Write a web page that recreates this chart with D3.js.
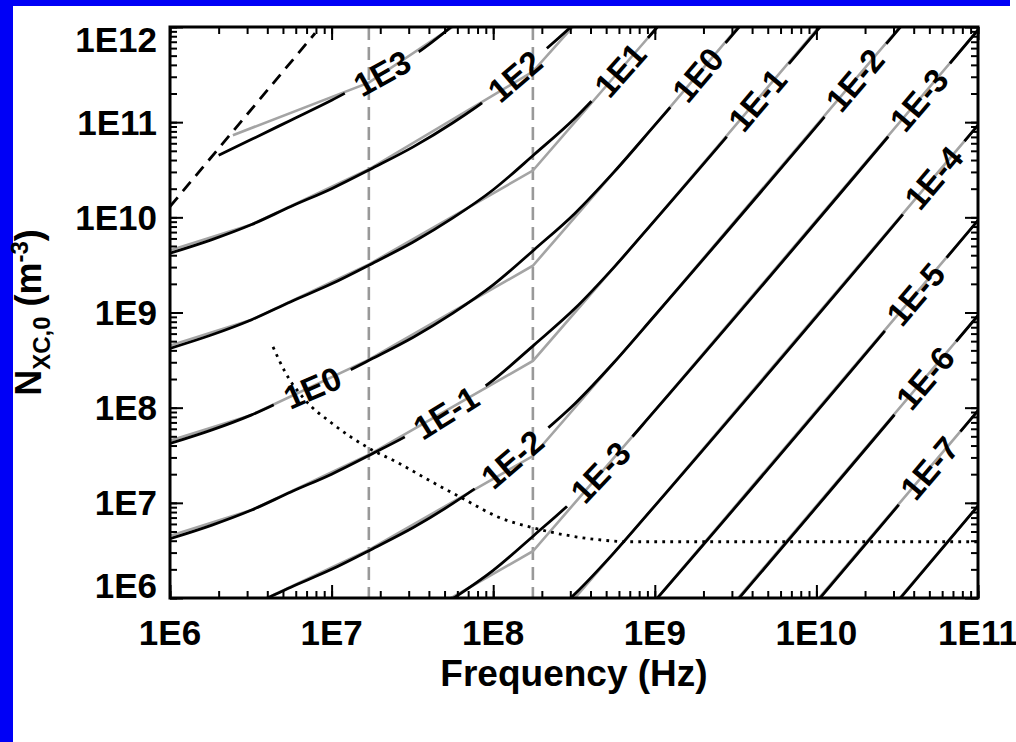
<!DOCTYPE html>
<html>
<head>
<meta charset="utf-8">
<title>N_XC,0 contours vs frequency</title>
<script src="https://cdn.jsdelivr.net/npm/d3@7/dist/d3.min.js"></script>
<style>
  html, body { margin: 0; padding: 0; background: #fff; }
  svg { display: block; }
  text { font-family: "Liberation Sans", Arial, Helvetica, sans-serif; font-weight: bold; fill: #000; }
</style>
</head>
<body>
<script>
// ---------- values ----------

// common frequency grid (Hz) for the black contours
const freqGrid = [1e6, 1.8e6, 3.2e6, 5.6e6, 1e7, 1.8e7, 3.2e7, 5.6e7, 1e8, 1.8e8, 3.2e8, 5.6e8, 1e9, 1e11];

// black contours, density N_XC,0 (m^-3) on freqGrid
const densE2  = [4.2e9, 5.8e9, 8.4e9, 1.3e10, 2.0e10, 3.3e10, 5.5e10, 9.8e10, 1.95e11, 4.6e11, 1.1e12, 3.0e12, 9.3e12, 9.3e16];
const densE1  = [4.2e8, 5.8e8, 8.4e8, 1.3e9, 2.0e9, 3.3e9, 5.5e9, 9.8e9, 1.95e10, 4.6e10, 1.1e11, 3.0e11, 9.3e11, 9.3e15];
const densE0  = [4.2e7, 5.8e7, 8.4e7, 1.3e8, 2.0e8, 3.3e8, 5.5e8, 9.8e8, 1.95e9, 4.6e9, 1.1e10, 3.0e10, 9.3e10, 9.3e14];
const densEm1 = [4.2e6, 5.8e6, 8.4e6, 1.3e7, 2.0e7, 3.3e7, 5.5e7, 9.8e7, 1.95e8, 4.6e8, 1.1e9, 3.0e9, 9.3e9, 9.3e13];
const densEm2 = [4.2e5, 5.8e5, 8.4e5, 1.3e6, 2.0e6, 3.3e6, 5.5e6, 9.8e6, 1.95e7, 4.6e7, 1.1e8, 3.0e8, 9.3e8, 9.3e12];
const densEm3 = [4.2e4, 5.8e4, 8.4e4, 1.3e5, 2.0e5, 3.3e5, 5.5e5, 9.8e5, 1.95e6, 4.6e6, 1.1e7, 3.0e7, 9.3e7, 9.3e11];
const densEm4 = [4.2e3, 5.8e3, 8.4e3, 1.3e4, 2.0e4, 3.3e4, 5.5e4, 9.8e4, 1.95e5, 4.6e5, 1.1e6, 3.0e6, 9.3e6, 9.3e10];
const densEm5 = [420, 580, 840, 1.3e3, 2.0e3, 3.3e3, 5.5e3, 9.8e3, 1.95e4, 4.6e4, 1.1e5, 3.0e5, 9.3e5, 9.3e9];
const densEm6 = [42, 58, 84, 130, 200, 330, 550, 980, 1.95e3, 4.6e3, 1.1e4, 3.0e4, 9.3e4, 9.3e8];
const densEm7 = [4.2, 5.8, 8.4, 13, 20, 33, 55, 98, 195, 460, 1.1e3, 3.0e3, 9.3e3, 9.3e7];
const densEm8 = [0.42, 0.58, 0.84, 1.3, 2.0, 3.3, 5.5, 9.8, 19.5, 46, 110, 300, 930, 9.3e6];

// the 1E3 contour starts on the plasma line
const freqE3 = [2.0e6, 3.2e6, 5.6e6, 1e7, 1.8e7, 3.2e7, 5.6e7, 1e8];
const densE3 = [4.5e10, 6.6e10, 1.05e11, 1.7e11, 2.9e11, 5.0e11, 1.03e12, 2.5e12];

// gray (approximate) contours
const grayFreq   = [1e6, 3.2e6, 1.7e7, 1.76e8, 1e9, 1e11];
const grayE2  = [4.5e9, 8.4e9, 3.2e10, 3.4e11, 9.3e12, 9.3e16];
const grayE1  = [4.5e8, 8.4e8, 3.2e9, 3.1e10, 9.3e11, 9.3e15];
const grayE0  = [4.5e7, 8.4e7, 3.2e8, 3.1e9, 9.3e10, 9.3e14];
const grayEm1 = [4.5e6, 8.4e6, 3.2e7, 3.1e8, 9.3e9, 9.3e13];
const grayEm2 = [4.5e5, 8.4e5, 3.2e6, 3.1e7, 9.3e8, 9.3e12];
const grayEm3 = [4.5e4, 8.4e4, 3.2e5, 3.1e6, 9.3e7, 9.3e11];
const grayEm4 = [4.5e3, 8.4e3, 3.2e4, 3.1e5, 9.3e6, 9.3e10];
const grayEm5 = [450, 840, 3.2e3, 3.1e4, 9.3e5, 9.3e9];
const grayEm6 = [45, 84, 320, 3.1e3, 9.3e4, 9.3e8];
const grayEm7 = [4.5, 8.4, 32, 310, 9.3e3, 9.3e7];
const grayEm8 = [0.45, 0.84, 3.2, 31, 930, 9.3e6];
const grayFreqE3 = [2.45e6, 1.7e7, 5.6e7, 1e8];
const grayE3     = [7.3e10, 2.6e11, 1.0e12, 1.9e12];

// dashed black line (plasma frequency)
const plasmaFreq = [1e6, 7.9e6];
const plasmaDens = [1.3e10, 8.6e11];

// dotted black line
const dotFreq = [4.34e6, 5.15e6, 6.84e6, 1.0e7, 1.68e7, 2.58e7, 4.18e7, 6.68e7, 1.07e8, 1.74e8, 2.78e8, 4.46e8, 7.0e8, 1e11];
const dotDens = [4.35e8, 2.38e8, 1.21e8, 6.9e7, 3.8e7, 2.63e7, 1.66e7, 1.08e7, 7.1e6, 5.5e6, 4.6e6, 4.1e6, 3.9e6, 3.9e6];

// vertical gray dashed markers
const vlineFreq = [1.7e7, 1.76e8];

// contour labels: text (also the contour key) and frequency where it sits
const labelText = ["1E3", "1E2", "1E1", "1E0", "1E-1", "1E-2", "1E-3", "1E-4", "1E-5", "1E-6", "1E-7", "1E0", "1E-1", "1E-2", "1E-3"];
const labelFreq = [2.05e7, 1.36e8, 6.1e8, 1.84e9, 4.3e9, 1.73e10, 4.3e10, 5.3e10, 4.1e10, 4.7e10, 5.0e10, 7.6e6, 5.1e7, 1.31e8, 4.6e8];

// axis ticks
const xTickVals   = [1e6, 1e7, 1e8, 1e9, 1e10, 1e11];
const xTickLabels = ["1E6", "1E7", "1E8", "1E9", "1E10", "1E11"];
const yTickVals   = [1e6, 1e7, 1e8, 1e9, 1e10, 1e11, 1e12];
const yTickLabels = ["1E6", "1E7", "1E8", "1E9", "1E10", "1E11", "1E12"];

// ---------- chart ----------
const ch = {};
ch.width = 1016;
ch.height = 742;
ch.margin = { top: 27, right: 38, bottom: 144, left: 170 };
ch.w = ch.width - ch.margin.left - ch.margin.right;
ch.h = ch.height - ch.margin.top - ch.margin.bottom;

const contours = [
    { key: "1E3",  freq: freqE3,   black: densE3,  grayFreq: grayFreqE3, gray: grayE3 },
    { key: "1E2",  freq: freqGrid, black: densE2,  grayFreq: grayFreq, gray: grayE2 },
    { key: "1E1",  freq: freqGrid, black: densE1,  grayFreq: grayFreq, gray: grayE1 },
    { key: "1E0",  freq: freqGrid, black: densE0,  grayFreq: grayFreq, gray: grayE0 },
    { key: "1E-1", freq: freqGrid, black: densEm1, grayFreq: grayFreq, gray: grayEm1 },
    { key: "1E-2", freq: freqGrid, black: densEm2, grayFreq: grayFreq, gray: grayEm2 },
    { key: "1E-3", freq: freqGrid, black: densEm3, grayFreq: grayFreq, gray: grayEm3 },
    { key: "1E-4", freq: freqGrid, black: densEm4, grayFreq: grayFreq, gray: grayEm4 },
    { key: "1E-5", freq: freqGrid, black: densEm5, grayFreq: grayFreq, gray: grayEm5 },
    { key: "1E-6", freq: freqGrid, black: densEm6, grayFreq: grayFreq, gray: grayEm6 },
    { key: "1E-7", freq: freqGrid, black: densEm7, grayFreq: grayFreq, gray: grayEm7 },
    { key: "1E-8", freq: freqGrid, black: densEm8, grayFreq: grayFreq, gray: grayEm8 }
];

document.addEventListener("DOMContentLoaded", () => {
    const m = ch.margin;

    ch.x = d3.scaleLog().domain([1e6, 1e11]).range([m.left, m.left + ch.w]);
    ch.y = d3.scaleLog().domain([1e6, 1e12]).range([m.top + ch.h, m.top]);

    ch.svg = d3.select("body").append("svg")
        .attr("width", ch.width)
        .attr("height", ch.height);

    // blue slide background showing at the edges
    ch.svg.append("rect").attr("x", 0).attr("y", 0).attr("width", 1010).attr("height", 6).attr("fill", "#0000f6");
    ch.svg.append("rect").attr("x", 0).attr("y", 0).attr("width", 13).attr("height", ch.height).attr("fill", "#0000f6");

    const defs = ch.svg.append("defs");
    defs.append("clipPath").attr("id", "plotClip")
        .append("rect")
        .attr("x", m.left).attr("y", m.top)
        .attr("width", ch.w).attr("height", ch.h);

    ch.mask = defs.append("mask").attr("id", "labelMask")
        .attr("maskUnits", "userSpaceOnUse")
        .attr("x", 0).attr("y", 0).attr("width", ch.width).attr("height", ch.height);
    ch.mask.append("rect").attr("width", ch.width).attr("height", ch.height).attr("fill", "white");

    ch.plot = ch.svg.append("g").attr("clip-path", "url(#plotClip)");

    drawMarkers();
    drawContours();
    drawExtraLines();
    drawAxes();
    drawContourLabels();
    drawTitles();
});

/**
 * log-log polylines through paired arrays (smooth one for the black contours)
 */
const logLine = d3.line()
    .x(d => ch.x(d[0]))
    .y(d => ch.y(d[1]));

const smoothLine = d3.line()
    .x(d => ch.x(d[0]))
    .y(d => ch.y(d[1]))
    .curve(d3.curveMonotoneX);

/**
 * Vertical gray dashed lines
 */
function drawMarkers() {
    ch.plot.selectAll(".vline")
        .data(vlineFreq)
        .join("line")
        .attr("class", "vline")
        .attr("x1", d => ch.x(d)).attr("x2", d => ch.x(d))
        .attr("y1", ch.margin.top).attr("y2", ch.margin.top + ch.h)
        .attr("stroke", "#999")
        .attr("stroke-width", 2.6)
        .attr("stroke-dasharray", "13,7");
}

/**
 * Gray approximations underneath, black contours on top (cut at labels)
 */
function drawContours() {
    ch.plot.append("g").attr("class", "gray")
        .selectAll("path")
        .data(contours)
        .join("path")
        .attr("d", d => logLine(d3.zip(d.grayFreq, d.gray)))
        .attr("fill", "none")
        .attr("stroke", "#a4a4a4")
        .attr("stroke-width", 2.6);

    ch.plot.append("g").attr("class", "black")
        .attr("mask", "url(#labelMask)")
        .selectAll("path")
        .data(contours)
        .join("path")
        .attr("d", d => smoothLine(d3.zip(d.freq, d.black)))
        .attr("fill", "none")
        .attr("stroke", "#000")
        .attr("stroke-width", 2.8);
}

/**
 * Plasma (dashed) and dotted lines
 */
function drawExtraLines() {
    ch.plot.append("path")
        .attr("d", logLine(d3.zip(plasmaFreq, plasmaDens)))
        .attr("fill", "none")
        .attr("stroke", "#000")
        .attr("stroke-width", 2.8)
        .attr("stroke-dasharray", "12,8");

    ch.plot.append("path")
        .attr("d", smoothLine(d3.zip(dotFreq, dotDens)))
        .attr("fill", "none")
        .attr("stroke", "#000")
        .attr("stroke-width", 2.8)
        .attr("stroke-dasharray", "2.8,5.2");
}

/**
 * Frame, inward ticks on all four sides, tick labels
 */
function drawAxes() {
    const m = ch.margin;
    const sides = [
        { axis: d3.axisBottom, scale: ch.x, tf: `translate(0,${m.top + ch.h})` },
        { axis: d3.axisTop,    scale: ch.x, tf: `translate(0,${m.top})` },
        { axis: d3.axisLeft,   scale: ch.y, tf: `translate(${m.left},0)` },
        { axis: d3.axisRight,  scale: ch.y, tf: `translate(${m.left + ch.w},0)` }
    ];

    sides.forEach(s => {
        const major = s.scale === ch.x ? xTickVals : yTickVals;
        [[s.scale.ticks(), 7], [major, 13]].forEach(([vals, len]) => {
            ch.svg.append("g")
                .attr("transform", s.tf)
                .call(s.axis(s.scale).tickValues(vals).tickSize(-len).tickFormat(""))
                .call(g => g.select(".domain").remove())
                .call(g => g.selectAll("line").attr("stroke", "#000").attr("stroke-width", 2));
        });
    });

    ch.svg.append("rect")
        .attr("x", m.left).attr("y", m.top)
        .attr("width", ch.w).attr("height", ch.h)
        .attr("fill", "none")
        .attr("stroke", "#000")
        .attr("stroke-width", 3);

    const fs = 35;
    const cap = fs * 0.72;

    // the last x label runs off the right edge, as in the original slide
    ch.svg.selectAll(".xlab")
        .data(xTickVals)
        .join("text")
        .attr("class", "xlab")
        .attr("x", d => ch.x(d))
        .attr("y", m.top + ch.h + 47)
        .attr("text-anchor", "middle")
        .style("font-size", fs + "px")
        .text((d, i) => xTickLabels[i]);

    ch.svg.selectAll(".ylab")
        .data(yTickVals)
        .join("text")
        .attr("class", "ylab")
        .attr("x", m.left - 13)
        .attr("y", d => Math.max(m.top + cap, Math.min(m.top + ch.h, ch.y(d) + cap / 2)))
        .attr("text-anchor", "end")
        .style("font-size", fs + "px")
        .text((d, i) => yTickLabels[i]);
}

/**
 * Find the density on a contour at frequency f (log-log interpolation)
 */
function densityAt(c, f) {
    const lf = Math.log10(f);
    const fs = c.freq.map(Math.log10);
    let i = d3.bisectRight(fs, lf) - 1;
    i = Math.max(0, Math.min(fs.length - 2, i));
    const t = (lf - fs[i]) / (fs[i + 1] - fs[i]);
    const l0 = Math.log10(c.black[i]), l1 = Math.log10(c.black[i + 1]);
    return Math.pow(10, l0 + t * (l1 - l0));
}

/**
 * Labels rotated along their contour; a mask cuts the black line under them
 */
function drawContourLabels() {
    const g = ch.svg.append("g").attr("class", "contour-labels");
    const pad = 13;

    labelText.forEach((t, i) => {
        const c = contours.find(k => k.key === t);
        const f = labelFreq[i];
        const cx = ch.x(f), cy = ch.y(densityAt(c, f));
        const p0 = [ch.x(f / 1.15), ch.y(densityAt(c, f / 1.15))];
        const p1 = [ch.x(f * 1.15), ch.y(densityAt(c, f * 1.15))];
        const ang = Math.atan2(p1[1] - p0[1], p1[0] - p0[0]) * 180 / Math.PI;
        const tf = `translate(${cx},${cy}) rotate(${ang})`;

        const txt = g.append("text")
            .attr("transform", tf)
            .attr("text-anchor", "middle")
            .attr("dy", "0.36em")
            .style("font-size", "33px")
            .text(t);

        const len = txt.node().getComputedTextLength();
        ch.mask.append("rect")
            .attr("transform", tf)
            .attr("x", -len / 2 - pad).attr("y", -13)
            .attr("width", len + 2 * pad).attr("height", 26)
            .attr("fill", "black");
    });
}

/**
 * Axis titles
 */
function drawTitles() {
    const m = ch.margin;

    ch.svg.append("text")
        .attr("x", m.left + ch.w / 2)
        .attr("y", 686)
        .attr("text-anchor", "middle")
        .style("font-size", "37px")
        .text("Frequency (Hz)");

    const yt = ch.svg.append("text")
        .attr("transform", `translate(41,${m.top + ch.h / 2}) rotate(-90)`)
        .attr("text-anchor", "middle")
        .style("font-size", "36px");
    yt.append("tspan").text("N");
    yt.append("tspan").attr("dy", 9).style("font-size", "24px").text("XC,0");
    yt.append("tspan").attr("dy", -9).text(" (m");
    yt.append("tspan").attr("dy", -13).style("font-size", "24px").text("-3");
    yt.append("tspan").attr("dy", 13).text(")");
}
</script>
</body>
</html>
